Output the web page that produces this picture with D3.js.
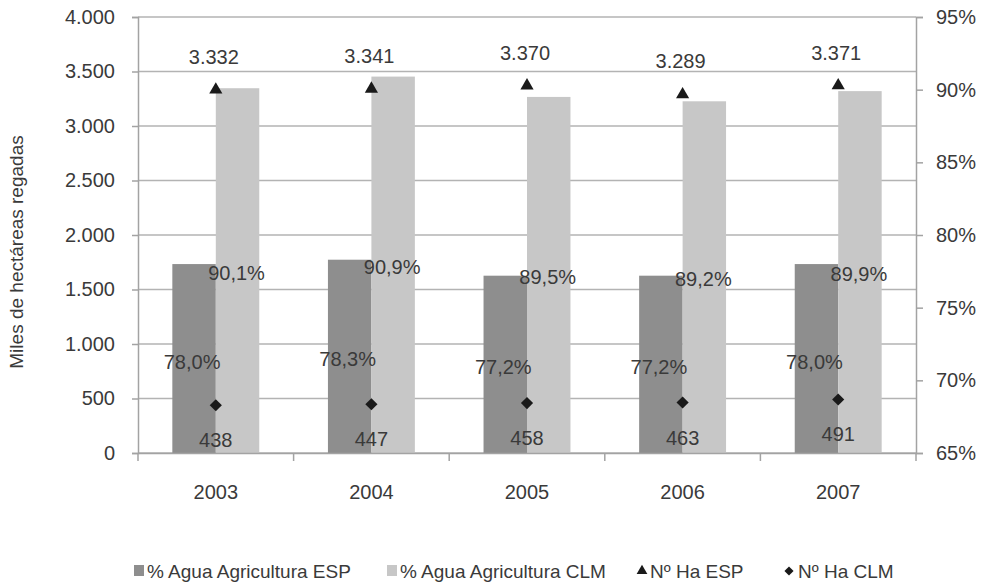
<!DOCTYPE html>
<html><head><meta charset="utf-8">
<script src="https://cdn.jsdelivr.net/npm/d3@7"></script>
<style>
html,body{margin:0;padding:0;background:#fff;}
svg text{font-family:"Liberation Sans",Arial,sans-serif;fill:#3a3a3a;}
</style></head>
<body><svg id="chart" width="981" height="585"></svg>
<script>
const years = ["2003","2004","2005","2006","2007"];
const pctAguaESP = [78.0, 78.3, 77.2, 77.2, 78.0];
const pctAguaCLM = [90.1, 90.9, 89.5, 89.2, 89.9];
const haESP = [3332, 3341, 3370, 3289, 3371];
const haCLM = [438, 447, 458, 463, 491];
const leftTicks = [0, 500, 1000, 1500, 2000, 2500, 3000, 3500, 4000];
const rightTicks = [65, 70, 75, 80, 85, 90, 95];
const seriesNames = ["% Agua Agricultura ESP", "% Agua Agricultura CLM", "Nº Ha ESP", "Nº Ha CLM"];
const yTitle = "Miles de hectáreas regadas";

const loc = d3.formatLocale({decimal: ",", thousands: ".", grouping: [3], currency: ["", "€"]});
const fmtInt = loc.format(",d");
const fmtPct1 = v => loc.format(".1f")(v) + "%";
const fmtPct0 = v => loc.format("d")(v) + "%";

const svg = d3.select("#chart");
const L = 138, R = 916, T = 17, B = 453;
const darkCol = "#8e8e8e", lightCol = "#c7c7c7", gridCol = "#b3b3b3", axisCol = "#a3a3a3", markCol = "#1a1a1a";

const x = d3.scaleBand().domain(years).range([L, R]).paddingInner(0).paddingOuter(0);
const xs = d3.scaleBand().domain(["ESP", "CLM"]).range([0, x.bandwidth()]).paddingInner(0).paddingOuter(0.79);
const yL = d3.scaleLinear().domain([0, 4000]).range([B, T]);
const yR = d3.scaleLinear().domain([65, 95]).range([B, T]);

// gridlines
svg.append("g").selectAll("line").data(leftTicks).join("line")
  .attr("x1", L).attr("x2", R).attr("y1", d => yL(d)).attr("y2", d => yL(d))
  .attr("stroke", gridCol).attr("stroke-width", 1.5);

// left axis
const gl = svg.append("g").attr("transform", `translate(${L},0)`)
  .call(d3.axisLeft(yL).tickValues(leftTicks).tickFormat(fmtInt).tickSize(6).tickPadding(17));
gl.select(".domain").attr("stroke", axisCol).attr("stroke-width", 1.5);
gl.selectAll(".tick line").attr("stroke", axisCol).attr("stroke-width", 1.5);
gl.selectAll(".tick text").attr("font-size", 20).attr("font-family", null).attr("fill", "#3a3a3a");

// right axis
const gr = svg.append("g").attr("transform", `translate(${R},0)`)
  .call(d3.axisRight(yR).tickValues(rightTicks).tickFormat(fmtPct0).tickSize(7).tickPadding(13));
gr.select(".domain").attr("stroke", axisCol).attr("stroke-width", 1.5);
gr.selectAll(".tick line").attr("stroke", axisCol).attr("stroke-width", 1.5);
gr.selectAll(".tick text").attr("font-size", 20).attr("font-family", null).attr("fill", "#3a3a3a");

// bars
const data = years.map((y, i) => ({year: y, esp: pctAguaESP[i], clm: pctAguaCLM[i], hE: haESP[i], hC: haCLM[i]}));
const grp = svg.append("g").selectAll("g").data(data).join("g")
  .attr("transform", d => `translate(${x(d.year)},0)`);
grp.append("rect").attr("x", xs("ESP")).attr("width", xs.bandwidth())
  .attr("y", d => yR(d.esp)).attr("height", d => B - yR(d.esp)).attr("fill", darkCol);
grp.append("rect").attr("x", xs("CLM")).attr("width", xs.bandwidth())
  .attr("y", d => yR(d.clm)).attr("height", d => B - yR(d.clm)).attr("fill", lightCol);

// x axis
const gx = svg.append("g").attr("transform", `translate(0,${B})`)
  .call(d3.axisBottom(x).tickSize(0).tickPadding(32));
gx.select(".domain").attr("stroke", axisCol).attr("stroke-width", 1.5);
gx.selectAll(".tick text").attr("font-size", 20).attr("font-family", null).attr("fill", "#3a3a3a");
svg.append("g").selectAll("line").data(d3.range(years.length + 1)).join("line")
  .attr("x1", i => L + i * x.step()).attr("x2", i => L + i * x.step())
  .attr("y1", B).attr("y2", B + 8).attr("stroke", axisCol).attr("stroke-width", 1.5);

// bar labels
grp.append("text").attr("x", xs("ESP") + xs.bandwidth() / 2 - 2)
  .attr("y", d => (yR(d.esp) + B) / 2 + 3).attr("dy", "0.35em")
  .attr("text-anchor", "middle").attr("font-size", 20).text(d => fmtPct1(d.esp));
grp.append("text").attr("x", xs("CLM") + xs.bandwidth() / 2 - 1)
  .attr("y", d => (yR(d.clm) + B) / 2 + 2).attr("dy", "0.35em")
  .attr("text-anchor", "middle").attr("font-size", 20).text(d => fmtPct1(d.clm));

// markers
const tri = d3.symbol().type(d3.symbolTriangle).size(75);
const dia = d3.symbol().type(d3.symbolSquare).size(74);
grp.append("path").attr("d", tri)
  .attr("transform", d => `translate(${x.bandwidth() / 2},${yL(d.hE)})`).attr("fill", markCol);
grp.append("path").attr("d", dia)
  .attr("transform", d => `translate(${x.bandwidth() / 2},${yL(d.hC)}) rotate(45)`).attr("fill", markCol);
grp.append("text").attr("x", x.bandwidth() / 2 - 2).attr("y", d => yL(d.hE) - 33).attr("dy", "0.35em")
  .attr("text-anchor", "middle").attr("font-size", 20).text(d => fmtInt(d.hE));
grp.append("text").attr("x", x.bandwidth() / 2).attr("y", d => yL(d.hC) + 35).attr("dy", "0.35em")
  .attr("text-anchor", "middle").attr("font-size", 20).text(d => fmtInt(d.hC));

// y title
svg.append("text").attr("transform", "translate(23,252) rotate(-90)")
  .attr("text-anchor", "middle").attr("font-size", 19).text(yTitle);

// legend
const legX = [147, 400, 650, 798];
const ly = 571;
const leg = svg.append("g").selectAll("g").data(seriesNames).join("g")
  .attr("transform", (d, i) => `translate(${legX[i]},${ly})`);
leg.append("text").attr("x", 0).attr("y", 0).attr("dy", "0.35em").attr("font-size", 19).text(d => d);
leg.each(function(d, i) {
  const g = d3.select(this);
  if (i === 0 || i === 1) {
    g.append("rect").attr("x", -13).attr("y", -6).attr("width", 10).attr("height", 11)
      .attr("fill", i === 0 ? darkCol : lightCol);
  } else if (i === 2) {
    g.append("path").attr("d", d3.symbol().type(d3.symbolTriangle).size(50))
      .attr("transform", "translate(-8,0)").attr("fill", markCol);
  } else {
    g.append("path").attr("d", d3.symbol().type(d3.symbolSquare).size(42))
      .attr("transform", "translate(-9,0) rotate(45)").attr("fill", markCol);
  }
});
</script></body></html>
